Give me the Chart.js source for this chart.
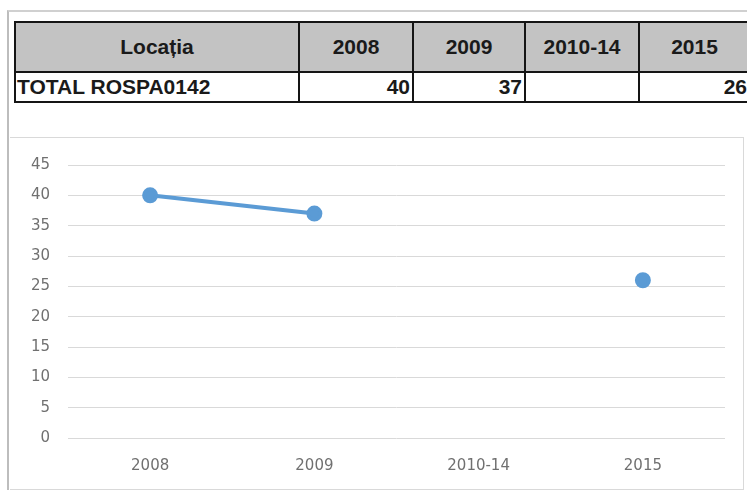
<!DOCTYPE html>
<html>
<head>
<meta charset="utf-8">
<script src="https://cdn.jsdelivr.net/npm/chart.js@4"></script>
<style>
  html, body { margin: 0; padding: 0; background: #fff; overflow: hidden; }
  body { width: 747px; height: 490px; position: relative; font-family: "Liberation Sans", Arial, sans-serif; }
  #frame { position: absolute; left: 7px; top: 10px; width: 760px; height: 500px;
           border-left: 2px solid #bdbdbd; border-top: 2px solid #d0d0d0; }
  table { position: absolute; left: 14px; top: 21px; width: 735px; border-collapse: collapse; table-layout: fixed; }
  td { border: 2px solid #151515; font-weight: bold; font-size: 21px; color: #1a1a1a; padding: 0 2px; overflow: hidden; white-space: nowrap; }
  tr.h td { background: #c3c3c3; height: 48px; text-align: center; }
  tr.d td { background: #fff; height: 28px; text-align: right; }
  tr.d td.l { text-align: left; padding-left: 1px; }
  #box { position: absolute; left: 10px; top: 137px; width: 733px; height: 351px;
         border-top: 1px solid #d9d9d9; border-right: 1px solid #d9d9d9; border-bottom: 1px solid #d9d9d9; }
  #wrap { position: absolute; left: 10px; top: 138px; width: 733px; height: 350px; }
</style>
</head>
<body>
<div id="frame"></div>
<table id="tbl">
  <colgroup>
    <col style="width:284px"><col style="width:114px"><col style="width:112px"><col style="width:114px"><col style="width:111px">
  </colgroup>
  <tr class="h"><td></td><td></td><td></td><td></td><td></td></tr>
  <tr class="d"><td class="l"></td><td></td><td></td><td></td><td></td></tr>
</table>
<div id="box"></div>
<div id="wrap"><canvas id="c"></canvas></div>
<script>
const headerLabel = "Locația";
const seriesName = "TOTAL ROSPA0142";
const categories = ["2008", "2009", "2010-14", "2015"];
const values = [40, 37, null, 26];
const yTicks = [0, 5, 10, 15, 20, 25, 30, 35, 40, 45];

// fill table
const rows = document.querySelectorAll("#tbl tr");
const hc = rows[0].querySelectorAll("td");
const dc = rows[1].querySelectorAll("td");
hc[0].textContent = headerLabel;
dc[0].textContent = seriesName;
categories.forEach((c, i) => {
  hc[i + 1].textContent = c;
  dc[i + 1].textContent = values[i] == null ? "" : values[i];
});

const font = { family: "'DejaVu Sans', sans-serif", size: 15 };
new Chart(document.getElementById("c"), {
  type: "line",
  data: {
    labels: categories,
    datasets: [{
      label: seriesName,
      data: values,
      borderColor: "#5b9bd5",
      backgroundColor: "#5b9bd5",
      borderWidth: 4,
      pointRadius: 6,
      pointHoverRadius: 6,
      spanGaps: false,
      tension: 0
    }]
  },
  options: {
    responsive: true,
    maintainAspectRatio: false,
    animation: false,
    layout: { padding: { left: 0, right: 18, top: 25, bottom: 0 } },
    plugins: { legend: { display: false }, tooltip: { enabled: false } },
    scales: {
      x: {
        offset: true,
        grid: { display: false, drawTicks: false },
        border: { display: false },
        ticks: { color: "#707070", font: font, padding: 19 },
        afterFit: s => { s.height = 50; }
      },
      y: {
        min: 0, max: 45,
        afterBuildTicks: s => { s.ticks = yTicks.map(v => ({ value: v })); },
        grid: { color: "#d9d9d9", lineWidth: 1, drawTicks: false },
        border: { display: false },
        ticks: { color: "#707070", font: font, padding: 18 },
        afterFit: s => { s.width = 58; }
      }
    }
  }
});
</script>
</body>
</html>
